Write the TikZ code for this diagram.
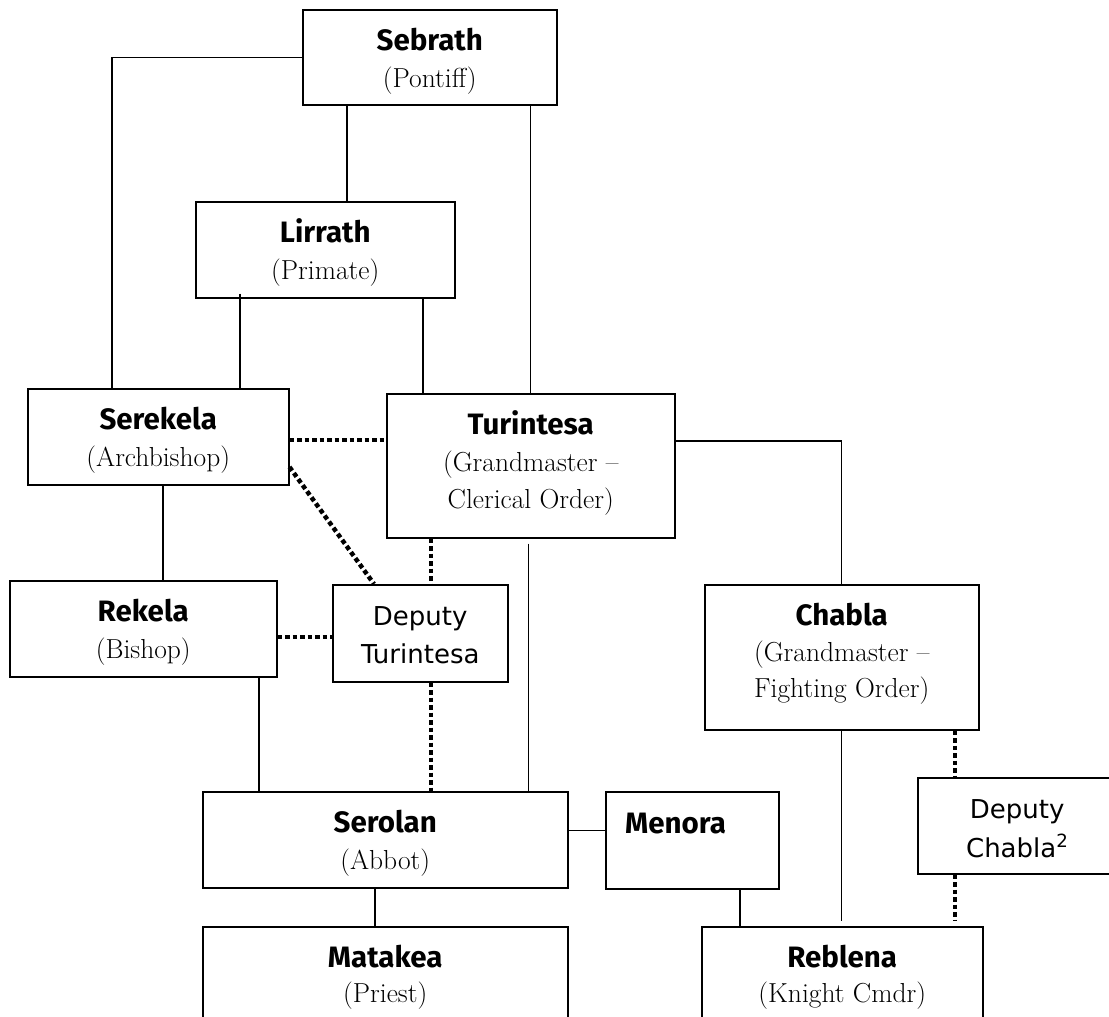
\documentclass[tikz,border=0pt]{standalone}
\usepackage{fontspec}
\newfontfamily\namefont{Fira Sans}
\newfontfamily\depfont{DejaVu Sans}
\begin{document}
\begin{tikzpicture}[x=1pt,y=-1pt,
  box/.style={draw, line width=1.5pt, inner sep=0pt, anchor=north west, fill=white},
  nm/.style={font=\namefont\bfseries\fontsize{29.5}{36}\selectfont, inner sep=0pt, anchor=base},
  rl/.style={font=\fontsize{27.5}{32}\selectfont, inner sep=0pt, anchor=base},
  dp/.style={font=\depfont\fontsize{26}{32}\selectfont, inner sep=0pt, anchor=base},
  conn/.style={line width=1.2pt},
  dotln/.style={line width=4.5pt, dash pattern=on 4.5pt off 3pt}]
\useasboundingbox (0,0) rectangle (1109,1017);
\fill[white] (0,0) rectangle (1109,1017);
\clip (0,0) rectangle (1109,1017);

% boxes
\node[box, minimum width=254pt, minimum height=95pt] (sebrath) at (302,9) {};
\node[box, minimum width=259pt, minimum height=96pt] (lirrath) at (195,201) {};
\node[box, minimum width=261pt, minimum height=96pt] (serekela) at (27,388) {};
\node[box, minimum width=288pt, minimum height=144pt] (turintesa) at (386,393) {};
\node[box, minimum width=267pt, minimum height=96pt] (rekela) at (9,580) {};
\node[box, minimum width=175pt, minimum height=97pt] (deputyT) at (332,584) {};
\node[box, minimum width=274pt, minimum height=145pt] (chabla) at (704,584) {};
\node[box, minimum width=199pt, minimum height=96pt] (deputyC) at (917,777) {};
\node[box, minimum width=365pt, minimum height=96pt] (serolan) at (202,791) {};
\node[box, minimum width=173pt, minimum height=97pt] (menora) at (605,791) {};
\node[box, minimum width=365pt, minimum height=120pt] (matakea) at (202,926) {};
\node[box, minimum width=281pt, minimum height=120pt] (reblena) at (701,926) {};

% solid connectors
\draw[conn] (sebrath.west) -| ([xshift=85pt]serekela.north west);
\draw[conn] ([xshift=45pt]sebrath.south west) -- ([xshift=45pt]sebrath.south west |- lirrath.north);
\draw[conn] (turintesa.north) -- (turintesa.north |- sebrath.south);
\draw[conn] ([xshift=45pt,yshift=5pt]lirrath.south west) -- ([xshift=45pt]lirrath.south west |- serekela.north);
\draw[conn] ([xshift=37pt]turintesa.north west) -- ([xshift=37pt]turintesa.north west |- lirrath.south);
\draw[conn] ([yshift=-48pt]turintesa.north east) -| (chabla.north);
\draw[conn] ([xshift=-2pt,yshift=-5pt]turintesa.south) -- ([xshift=-2pt]turintesa.south |- serolan.north);
\draw[conn] ([xshift=136pt]serekela.south west) -- ([xshift=136pt]serekela.south west |- rekela.north);
\draw[conn] ([xshift=250pt]rekela.south west) -- ([xshift=250pt]rekela.south west |- serolan.north);
\draw[conn] ([yshift=9pt]serolan.east) -- ([yshift=9pt]serolan.east -| menora.west);
\draw[conn] ([xshift=173pt]serolan.south west) -- ([xshift=173pt]serolan.south west |- matakea.north);
\draw[conn] ([xshift=135pt]menora.south west) -- ([xshift=135pt]menora.south west |- reblena.north);
\draw[conn] (chabla.south) -- ([yshift=5pt]chabla.south |- reblena.north);

% dotted connectors
\draw[dotln] ([yshift=-52pt]serekela.north east) -- ([yshift=-52pt]serekela.north east -| turintesa.west);
\draw[dotln] ([yshift=-79pt]serekela.north east) -- ([xshift=42pt]deputyT.north west);
\draw[dotln] ([xshift=45pt]turintesa.south west) -- ([xshift=45pt]turintesa.south west |- deputyT.north);
\draw[dotln] ([yshift=-57pt]rekela.north east) -- ([yshift=-57pt]rekela.north east -| deputyT.west);
\draw[dotln] ([xshift=99pt]deputyT.south west) -- ([xshift=99pt]deputyT.south west |- serolan.north);
\draw[dotln] ([xshift=251pt]chabla.south west) -- ([xshift=251pt]chabla.south west |- deputyC.north);
\draw[dotln] ([xshift=38pt]deputyC.south west) -- ([xshift=38pt,yshift=5pt]deputyC.south west |- reblena.north);

% texts
\node[nm] (sebrathA) at ([yshift=-41pt]sebrath.north) {Sebrath};
\node[rl] (sebrathB) at ([yshift=-78pt]sebrath.north) {(Pontiff)};
\node[nm] (lirrathA) at ([yshift=-41pt]lirrath.north) {Lirrath};
\node[rl] (lirrathB) at ([yshift=-78pt]lirrath.north) {(Primate)};
\node[nm] (serekelaA) at ([yshift=-41pt]serekela.north) {Serekela};
\node[rl] (serekelaB) at ([yshift=-78pt]serekela.north) {(Archbishop)};
\node[nm] (turintesaA) at ([yshift=-41pt]turintesa.north) {Turintesa};
\node[rl] (turintesaB) at ([yshift=-78pt]turintesa.north) {(Grandmaster –};
\node[rl] (turintesaC) at ([yshift=-115pt]turintesa.north) {Clerical Order)};
\node[nm] (rekelaA) at ([yshift=-41pt]rekela.north) {Rekela};
\node[rl] (rekelaB) at ([yshift=-78pt]rekela.north) {(Bishop)};
\node[dp] (deputyTA) at ([yshift=-41pt]deputyT.north) {Deputy};
\node[dp] (deputyTB) at ([yshift=-79pt]deputyT.north) {Turintesa};
\node[nm] (chablaA) at ([yshift=-41pt]chabla.north) {Chabla};
\node[rl] (chablaB) at ([yshift=-77pt]chabla.north) {(Grandmaster –};
\node[rl] (chablaC) at ([yshift=-113pt]chabla.north) {Fighting Order)};
\node[dp] (deputyCA) at ([yshift=-41pt]deputyC.north) {Deputy};
\node[dp] (deputyCB) at ([yshift=-80pt]deputyC.north) {Chabla\textsuperscript{2}};
\node[nm] (serolanA) at ([yshift=-41pt]serolan.north) {Serolan};
\node[rl] (serolanB) at ([yshift=-78pt]serolan.north) {(Abbot)};
\node[nm, anchor=base west] (menoraA) at ([xshift=20pt,yshift=-42pt]menora.north west) {Menora};
\node[nm] (matakeaA) at ([yshift=-41pt]matakea.north) {Matakea};
\node[rl] (matakeaB) at ([yshift=-76pt]matakea.north) {(Priest)};
\node[nm] (reblenaA) at ([yshift=-41pt]reblena.north) {Reblena};
\node[rl] (reblenaB) at ([yshift=-76pt]reblena.north) {(Knight Cmdr)};
\end{tikzpicture}
\end{document}
